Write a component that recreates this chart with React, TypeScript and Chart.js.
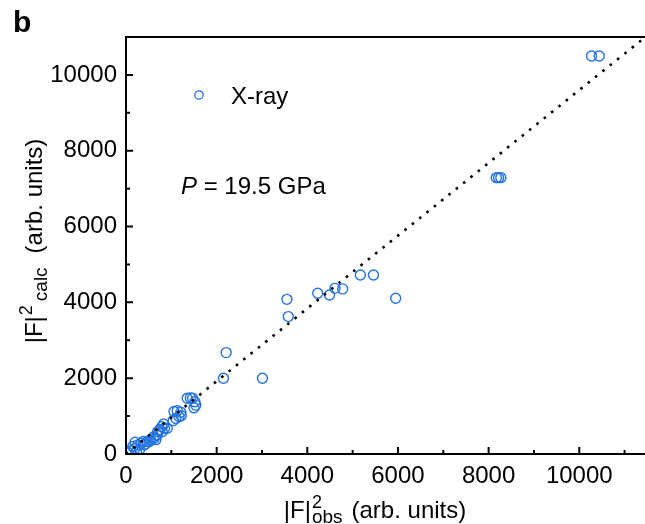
import { useEffect, useRef } from 'react';
import { Chart, registerables } from 'chart.js';

Chart.register(...registerables);

// Observed vs. calculated structure-factor intensities (arb. units)
const obsValues = [
  60, 110, 150, 190, 230, 260, 300, 330, 200, 380, 420, 400, 470, 510, 540, 610, 620, 660,
  690, 700, 740, 790, 800, 830, 850, 910, 1040, 1060, 1100, 1130, 1170, 1210, 1220,
  1350, 1420, 1470, 1520, 1540, 1500,
  2150, 2210, 3010,
  3550, 3580,
  4230, 4490, 4610, 4780, 5170, 5460, 5950,
  8170, 8220, 8270,
  10270, 10440,
];
const calcValues = [
  30, 90, 200, 140, 60, 240, 120, 280, 310, 330, 260, 240, 330, 325, 370, 455, 410, 380,
  500, 590, 640, 720, 590, 790, 680, 680, 880, 1120, 940, 1140, 990, 1100, 1010,
  1470, 1480, 1470, 1380, 1290, 1220,
  2000, 2675, 2000,
  4080, 3625,
  4240, 4195, 4370, 4355, 4720, 4720, 4110,
  7290, 7290, 7290,
  10500, 10500,
];

// Linear fit through the origin, drawn dotted
const FIT_SLOPE = 0.96;
const FIT_X = [0, 11450];

const X_MAX = 11450;
const Y_MAX = 11000;
const X_MAJOR_TICKS = [0, 2000, 4000, 6000, 8000, 10000];
const X_MINOR_TICKS = [1000, 3000, 5000, 7000, 9000, 11000];
const Y_MAJOR_TICKS = [0, 2000, 4000, 6000, 8000, 10000];
const Y_MINOR_TICKS = [1000, 3000, 5000, 7000, 9000];

const SERIES_LABEL = 'X-ray';
const PRESSURE_LABEL = ' = 19.5 GPa';
const PANEL_LABEL = 'b';

const FONT = '"Liberation Sans", Arial, Helvetica, sans-serif';
const BLUE = 'rgb(34, 114, 226)';

type Part = { text: string; size: number; dy?: number; italic?: boolean; gap?: number; stackWith?: Part };

function fontOf(p: Part) {
  return `${p.italic ? 'italic ' : ''}${p.size}px ${FONT}`;
}

function partWidth(ctx: CanvasRenderingContext2D, p: Part) {
  ctx.font = fontOf(p);
  let w = ctx.measureText(p.text).width;
  if (p.stackWith) {
    ctx.font = fontOf(p.stackWith);
    w = Math.max(w, ctx.measureText(p.stackWith.text).width);
  }
  return w + (p.gap || 0);
}

// Draws a run of text pieces (with super/subscripts) at baseline 0
function drawRich(ctx: CanvasRenderingContext2D, parts: Part[], cx: number, align: 'center' | 'left' = 'center') {
  const widths = parts.map((p) => partWidth(ctx, p));
  const total = widths.reduce((a, b) => a + b, 0);
  let x = align === 'center' ? cx - total / 2 : cx;
  ctx.textAlign = 'left';
  ctx.textBaseline = 'alphabetic';
  parts.forEach((p, i) => {
    ctx.font = fontOf(p);
    ctx.fillText(p.text, x, p.dy || 0);
    if (p.stackWith) {
      ctx.font = fontOf(p.stackWith);
      ctx.fillText(p.stackWith.text, x, p.stackWith.dy || 0);
    }
    x += widths[i];
  });
}

const decorations = {
  id: 'decorations',
  afterDraw(chart: Chart) {
    const { ctx, chartArea } = chart;
    const xs = chart.scales.x;
    const ys = chart.scales.y;
    const { left, right, top, bottom } = chartArea;
    ctx.save();
    ctx.strokeStyle = '#000';
    ctx.fillStyle = '#000';
    ctx.lineWidth = 2;

    // frame: left, bottom and top edges
    ctx.beginPath();
    ctx.moveTo(left, top);
    ctx.lineTo(left, bottom);
    ctx.moveTo(left - 1, bottom);
    ctx.lineTo(right, bottom);
    ctx.moveTo(left - 1, top);
    ctx.lineTo(right, top);
    ctx.stroke();

    // inward tick marks
    ctx.beginPath();
    X_MAJOR_TICKS.forEach((v) => {
      const px = xs.getPixelForValue(v);
      ctx.moveTo(px, bottom);
      ctx.lineTo(px, bottom - 7);
    });
    X_MINOR_TICKS.forEach((v) => {
      const px = xs.getPixelForValue(v);
      ctx.moveTo(px, bottom);
      ctx.lineTo(px, bottom - 4);
    });
    Y_MAJOR_TICKS.forEach((v) => {
      const py = ys.getPixelForValue(v);
      ctx.moveTo(left, py);
      ctx.lineTo(left + 7, py);
    });
    Y_MINOR_TICKS.forEach((v) => {
      const py = ys.getPixelForValue(v);
      ctx.moveTo(left, py);
      ctx.lineTo(left + 4, py);
    });
    ctx.stroke();

    // x-axis title
    const xTitle: Part[] = [
      { text: '|F|', size: 24, gap: 1 },
      { text: '2', size: 18, dy: -10, gap: 9, stackWith: { text: 'obs', size: 19, dy: 5 } },
      { text: '(arb. units)', size: 24 },
    ];
    ctx.save();
    ctx.translate(0, 518);
    drawRich(ctx, xTitle, 375);
    ctx.restore();

    // y-axis title
    const yTitle: Part[] = [
      { text: '|F|', size: 24, gap: 1 },
      { text: '2', size: 18, dy: -10, gap: 4 },
      { text: 'calc', size: 19, dy: 5, gap: 14 },
      { text: '(arb. units)', size: 24 },
    ];
    ctx.save();
    ctx.translate(42, 241);
    ctx.rotate(-Math.PI / 2);
    drawRich(ctx, yTitle, 0);
    ctx.restore();

    // legend
    ctx.beginPath();
    ctx.strokeStyle = BLUE;
    ctx.lineWidth = 1.3;
    ctx.arc(199, 95, 4.2, 0, Math.PI * 2);
    ctx.stroke();
    ctx.font = `24px ${FONT}`;
    ctx.textAlign = 'left';
    ctx.textBaseline = 'alphabetic';
    ctx.fillText(SERIES_LABEL, 231, 104);

    // pressure annotation
    ctx.save();
    ctx.translate(0, 194);
    drawRich(ctx, [{ text: 'P', size: 24, italic: true }, { text: PRESSURE_LABEL, size: 24 }], 181, 'left');
    ctx.restore();

    // panel letter
    ctx.font = `bold 30px ${FONT}`;
    ctx.fillText(PANEL_LABEL, 13, 32);
    ctx.restore();
  },
};

export default function App() {
  const canvasRef = useRef<HTMLCanvasElement | null>(null);

  useEffect(() => {
    const canvas = canvasRef.current;
    if (!canvas) return;
    const points = obsValues.map((x, i) => ({ x, y: calcValues[i] }));
    const fitLine = FIT_X.map((x) => ({ x, y: x * FIT_SLOPE }));
    const tickFont = { family: FONT, size: 24 };

    const chart = new Chart(canvas, {
      type: 'scatter',
      data: {
        datasets: [
          {
            type: 'line',
            label: 'fit',
            data: fitLine,
            borderColor: '#000',
            borderWidth: 2.6,
            borderDash: [2.6, 6.8],
            pointRadius: 0,
            fill: false,
          },
          {
            label: SERIES_LABEL,
            data: points,
            pointStyle: 'circle',
            pointRadius: 5,
            pointBorderWidth: 1.4,
            pointBorderColor: BLUE,
            pointBackgroundColor: 'rgba(0,0,0,0)',
            borderColor: BLUE,
            backgroundColor: 'rgba(0,0,0,0)',
          },
        ],
      },
      options: {
        responsive: false,
        animation: false,
        devicePixelRatio: 1,
        layout: { autoPadding: false, padding: { top: 37, right: 0, left: 0, bottom: 0 } },
        plugins: {
          legend: { display: false },
          tooltip: { enabled: false },
        },
        scales: {
          x: {
            type: 'linear',
            min: 0,
            max: X_MAX,
            grid: { display: false, drawTicks: false },
            border: { display: false },
            afterBuildTicks: (s: any) => {
              s.ticks = X_MAJOR_TICKS.map((value) => ({ value }));
            },
            ticks: {
              autoSkip: false,
              maxRotation: 0,
              minRotation: 0,
              padding: 8,
              color: '#000',
              font: tickFont,
              callback: (v: any) => String(v),
            },
            afterFit: (s: any) => {
              s.height = 70;
              s.paddingLeft = 0;
              s.paddingRight = 0;
            },
          },
          y: {
            type: 'linear',
            min: 0,
            max: Y_MAX,
            grid: { display: false, drawTicks: false },
            border: { display: false },
            afterBuildTicks: (s: any) => {
              s.ticks = Y_MAJOR_TICKS.map((value) => ({ value }));
            },
            ticks: {
              autoSkip: false,
              padding: 9,
              color: '#000',
              font: tickFont,
              callback: (v: any) => String(v),
            },
            afterFit: (s: any) => {
              s.width = 126;
              s.paddingTop = 0;
              s.paddingBottom = 0;
            },
          },
        },
      },
      plugins: [decorations],
    } as any);

    return () => chart.destroy();
  }, []);

  return (
    <div style={{ position: 'absolute', left: 0, top: 0, width: 645, height: 524, overflow: 'hidden', background: '#fff' }}>
      <canvas ref={canvasRef} width={645} height={524} style={{ display: 'block', width: 645, height: 524 }} />
    </div>
  );
}
